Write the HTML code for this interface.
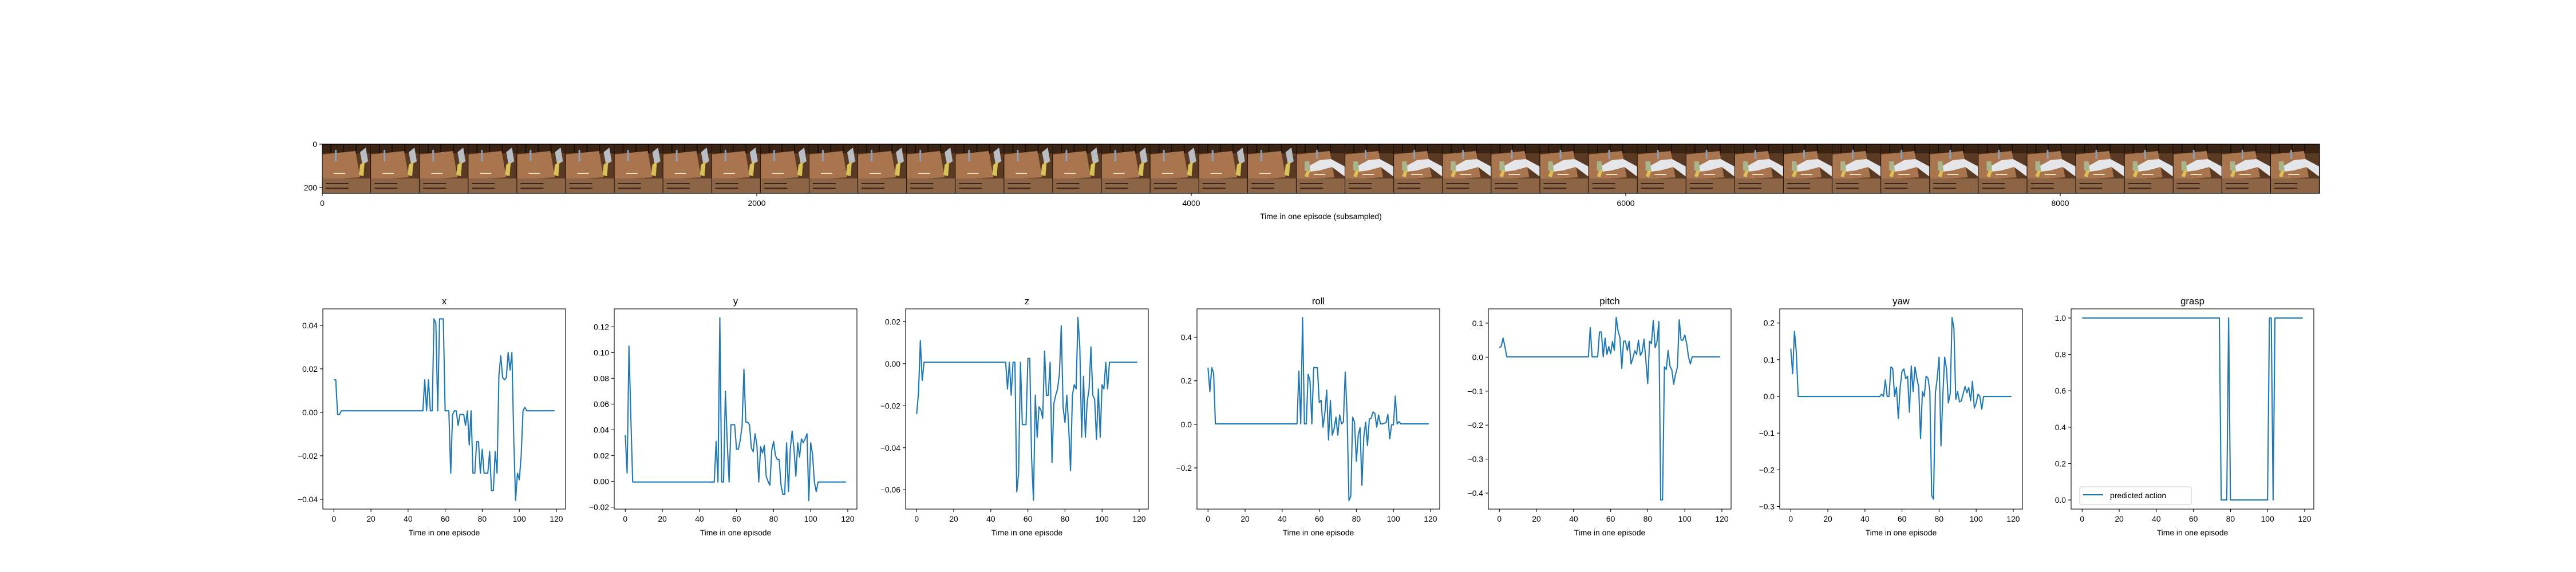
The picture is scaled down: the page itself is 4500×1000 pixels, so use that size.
<!DOCTYPE html>
<html><head><meta charset="utf-8"><style>
html,body{margin:0;padding:0;background:#fff;}
svg{display:block;font-family:"Liberation Sans","DejaVu Sans",sans-serif;}
</style></head><body>
<svg id="fig" width="4500" height="1000" viewBox="0 0 4500 1000" xmlns="http://www.w3.org/2000/svg">
<defs>
<pattern id="frameA" x="563" y="252" width="85.1" height="86" patternUnits="userSpaceOnUse">
<rect width="86" height="86" fill="#5a3a22"/>
<rect x="0" y="0" width="86" height="16" fill="#3b2414"/>
<rect x="14" y="0" width="2" height="16" fill="#1c0f07"/><rect x="36" y="0" width="2" height="16" fill="#1c0f07"/><rect x="58" y="0" width="2" height="16" fill="#1c0f07"/>
<polygon points="0,18 58,12 66,58 0,62" fill="#a9754f"/>
<rect x="0" y="60" width="86" height="26" fill="#8c6446"/>
<rect x="6" y="68" width="40" height="2" fill="#3b2414"/><rect x="6" y="76" width="40" height="2" fill="#3b2414"/>
<rect x="20" y="50" width="20" height="2" fill="#f0dcc0"/>
<rect x="22" y="10" width="3" height="20" fill="#8da0b8"/>
<polygon points="66,14 76,6 80,30 70,36" fill="#b9bdc4"/>
<polygon points="66,36 74,30 72,56 64,54" fill="#d9c15a"/>
<rect x="84" y="0" width="2" height="86" fill="#1c0f07"/>
</pattern>
<pattern id="frameB" x="563" y="252" width="85.1" height="86" patternUnits="userSpaceOnUse">
<rect width="86" height="86" fill="#5a3a22"/>
<rect x="0" y="0" width="86" height="16" fill="#3b2414"/>
<rect x="14" y="0" width="2" height="16" fill="#1c0f07"/><rect x="36" y="0" width="2" height="16" fill="#1c0f07"/><rect x="58" y="0" width="2" height="16" fill="#1c0f07"/>
<polygon points="0,18 58,12 66,58 0,62" fill="#a9754f"/>
<rect x="0" y="60" width="86" height="26" fill="#8c6446"/>
<rect x="6" y="68" width="40" height="2" fill="#3b2414"/><rect x="6" y="76" width="40" height="2" fill="#3b2414"/>
<rect x="30" y="52" width="20" height="2" fill="#f0dcc0"/>
<rect x="34" y="10" width="3" height="16" fill="#8da0b8"/>
<polygon points="22,38 40,28 60,26 86,40 86,58 62,40 40,46 24,48" fill="#e4e6ea"/>
<polygon points="14,30 22,30 24,48 14,46" fill="#aab48a"/>
<polygon points="18,46 24,46 20,58 14,56" fill="#d9c15a"/>
<rect x="84" y="0" width="2" height="86" fill="#1c0f07"/>
</pattern>
</defs>
<g id="stripGroup"></g>
<g id="panels"></g>
</svg>
<script>
const T = [];
for (let i = 0; i < 120; i++) T.push(i);
const xVals = [0.015,0.015,-0.001,-0.001,0.0007,0.0007,0.0007,0.0007,0.0007,0.0007,0.0007,0.0007,0.0007,0.0007,0.0007,0.0007,0.0007,0.0007,0.0007,0.0007,0.0007,0.0007,0.0007,0.0007,0.0007,0.0007,0.0007,0.0007,0.0007,0.0007,0.0007,0.0007,0.0007,0.0007,0.0007,0.0007,0.0007,0.0007,0.0007,0.0007,0.0007,0.0007,0.0007,0.0007,0.0007,0.0007,0.0007,0.0007,0.0007,0.015,0.0007,0.015,0.0007,0.0007,0.043,0.041,0.0007,0.043,0.043,0.043,0.0007,0.0007,0.0007,-0.028,-0.001,0.0007,0.0007,-0.006,-0.001,-0.001,-0.001,-0.006,0.0007,-0.015,0.0007,-0.028,-0.028,-0.0135,-0.0135,-0.028,-0.017,-0.028,-0.028,-0.028,-0.018,-0.036,-0.036,-0.018,-0.028,0.017,0.026,0.016,0.015,0.016,0.0275,0.0195,0.0275,-0.012,-0.0405,-0.028,-0.031,-0.02,0.0007,0.0023,0.0007,0.0007,0.0007,0.0007,0.0007,0.0007,0.0007,0.0007,0.0007,0.0007,0.0007,0.0007,0.0007,0.0007,0.0007,0.0007];
const yVals = [0.036,0.0065,0.105,0.05,-0.0005,-0.0005,-0.0005,-0.0005,-0.0005,-0.0005,-0.0005,-0.0005,-0.0005,-0.0005,-0.0005,-0.0005,-0.0005,-0.0005,-0.0005,-0.0005,-0.0005,-0.0005,-0.0005,-0.0005,-0.0005,-0.0005,-0.0005,-0.0005,-0.0005,-0.0005,-0.0005,-0.0005,-0.0005,-0.0005,-0.0005,-0.0005,-0.0005,-0.0005,-0.0005,-0.0005,-0.0005,-0.0005,-0.0005,-0.0005,-0.0005,-0.0005,-0.0005,-0.0005,-0.0005,0.031,-0.0005,0.127,-0.0005,-0.0005,0.07,0.03,-0.0005,0.044,0.044,0.044,0.025,0.025,0.032,0.043,0.087,0.046,0.046,0.044,0.026,0.023,0.037,0.028,-0.0005,0.027,0.022,0.028,0.004,0.0,-0.003,0.024,0.031,0.02,0.017,0.017,-0.003,-0.01,-0.01,0.03,-0.008,0.025,0.039,0.025,0.004,0.03,0.019,0.033,0.03,0.033,0.037,-0.015,0.03,0.021,-0.0005,-0.008,-0.0005,-0.0005,-0.0005,-0.0005,-0.0005,-0.0005,-0.0005,-0.0005,-0.0005,-0.0005,-0.0005,-0.0005,-0.0005,-0.0005,-0.0005,-0.0005];
const zVals = [-0.024,-0.014,0.011,-0.008,0.0007,0.0007,0.0007,0.0007,0.0007,0.0007,0.0007,0.0007,0.0007,0.0007,0.0007,0.0007,0.0007,0.0007,0.0007,0.0007,0.0007,0.0007,0.0007,0.0007,0.0007,0.0007,0.0007,0.0007,0.0007,0.0007,0.0007,0.0007,0.0007,0.0007,0.0007,0.0007,0.0007,0.0007,0.0007,0.0007,0.0007,0.0007,0.0007,0.0007,0.0007,0.0007,0.0007,0.0007,0.0007,-0.012,0.0007,-0.015,0.0007,0.0007,-0.061,-0.052,0.0007,-0.029,-0.029,-0.029,0.0025,0.0025,-0.045,-0.065,-0.015,-0.035,-0.0205,-0.022,-0.026,0.006,-0.015,-0.015,0.0007,-0.047,-0.019,-0.015,-0.012,-0.005,0.018,-0.021,-0.028,-0.015,-0.03,-0.051,-0.015,-0.01,-0.012,0.022,0.008,-0.035,-0.006,-0.035,-0.018,-0.012,0.008,-0.015,-0.017,-0.036,-0.012,-0.035,-0.01,-0.012,0.0007,-0.012,0.0007,0.0007,0.0007,0.0007,0.0007,0.0007,0.0007,0.0007,0.0007,0.0007,0.0007,0.0007,0.0007,0.0007,0.0007,0.0007];
const rollVals = [0.26,0.15,0.26,0.235,0.002,0.002,0.002,0.002,0.002,0.002,0.002,0.002,0.002,0.002,0.002,0.002,0.002,0.002,0.002,0.002,0.002,0.002,0.002,0.002,0.002,0.002,0.002,0.002,0.002,0.002,0.002,0.002,0.002,0.002,0.002,0.002,0.002,0.002,0.002,0.002,0.002,0.002,0.002,0.002,0.002,0.002,0.002,0.002,0.002,0.245,0.002,0.49,0.002,0.002,0.23,0.2,0.002,0.26,0.26,0.26,0.1,0.11,-0.013,0.05,0.157,-0.072,0.11,-0.05,-0.02,0.033,-0.05,0.043,0.002,0.01,0.24,0.05,-0.35,-0.33,0.033,0.01,-0.17,-0.05,-0.015,-0.28,-0.06,0.01,-0.097,0.025,0.028,0.057,0.05,-0.013,0.043,0.002,0.002,0.005,0.008,0.046,-0.067,-0.002,-0.002,0.13,0.002,0.012,0.002,0.002,0.002,0.002,0.002,0.002,0.002,0.002,0.002,0.002,0.002,0.002,0.002,0.002,0.002,0.002];
const pitchVals = [0.028,0.032,0.056,0.03,0.001,0.001,0.001,0.001,0.001,0.001,0.001,0.001,0.001,0.001,0.001,0.001,0.001,0.001,0.001,0.001,0.001,0.001,0.001,0.001,0.001,0.001,0.001,0.001,0.001,0.001,0.001,0.001,0.001,0.001,0.001,0.001,0.001,0.001,0.001,0.001,0.001,0.001,0.001,0.001,0.001,0.001,0.001,0.001,0.001,0.087,0.001,0.001,0.001,0.001,0.074,0.074,0.001,0.056,0.008,0.031,0.01,0.046,0.02,0.117,0.077,0.058,-0.033,0.047,0.047,0.02,0.047,-0.02,-0.003,0.019,0.008,0.05,0.005,0.015,0.053,-0.01,-0.078,0.047,0.04,0.108,0.028,0.045,0.105,-0.42,-0.42,-0.029,-0.036,0.02,-0.027,-0.037,-0.08,-0.05,-0.03,0.11,0.05,0.05,0.065,0.04,0.001,-0.02,0.001,0.001,0.001,0.001,0.001,0.001,0.001,0.001,0.001,0.001,0.001,0.001,0.001,0.001,0.001,0.001];
const yawVals = [0.13,0.062,0.177,0.12,0.0,0.0,0.0,0.0,0.0,0.0,0.0,0.0,0.0,0.0,0.0,0.0,0.0,0.0,0.0,0.0,0.0,0.0,0.0,0.0,0.0,0.0,0.0,0.0,0.0,0.0,0.0,0.0,0.0,0.0,0.0,0.0,0.0,0.0,0.0,0.0,0.0,0.0,0.0,0.0,0.0,0.0,0.0,0.0,0.0,0.006,0.0,0.045,0.0,0.0,0.08,0.076,0.0,0.025,-0.06,0.025,0.068,0.075,0.048,0.055,-0.043,0.083,0.013,0.08,0.05,0.025,-0.115,0.013,0.0,0.055,0.05,0.015,-0.27,-0.28,0.01,0.05,0.107,-0.135,0.0,0.107,0.075,-0.018,0.008,0.215,0.185,-0.008,0.013,-0.015,-0.012,0.008,0.027,0.01,0.024,-0.012,0.041,-0.032,-0.018,0.006,0.0,-0.035,0.0,0.0,0.0,0.0,0.0,0.0,0.0,0.0,0.0,0.0,0.0,0.0,0.0,0.0,0.0,0.0];
const graspVals = [1,1,1,1,1,1,1,1,1,1,1,1,1,1,1,1,1,1,1,1,1,1,1,1,1,1,1,1,1,1,1,1,1,1,1,1,1,1,1,1,1,1,1,1,1,1,1,1,1,1,1,1,1,1,1,1,1,1,1,1,1,1,1,1,1,1,1,1,1,1,1,1,1,1,1,0,0,0,0,1,0,0,0,0,0,0,0,0,0,0,0,0,0,0,0,0,0,0,0,0,0,1,1,0,1,1,1,1,1,1,1,1,1,1,1,1,1,1,1,1];
const panelTitles = ["x","y","z","roll","pitch","yaw","grasp"];
const yLims = [[-0.0445,0.0476],[-0.0215,0.1339],[-0.0692,0.0261],[-0.389,0.53],[-0.447,0.142],[-0.307,0.2385],[-0.05,1.05]];
const yTickVals = [[-0.04,-0.02,0,0.02,0.04],[-0.02,0,0.02,0.04,0.06,0.08,0.10,0.12],[-0.06,-0.04,-0.02,0,0.02],[-0.2,0,0.2,0.4],[-0.4,-0.3,-0.2,-0.1,0,0.1],[-0.3,-0.2,-0.1,0,0.1,0.2],[0,0.2,0.4,0.6,0.8,1.0]];
const yTickDecimals = [2,2,2,1,1,1,1];
const xTickVals = [0,20,40,60,80,100,120];
const stripTicksX = [0,2000,4000,6000,8000];
const stripTicksY = [0,200];

const NS = "http://www.w3.org/2000/svg";
function mk(tag, attrs, parent){const e=document.createElementNS(NS,tag);for(const k in attrs)e.setAttribute(k,attrs[k]);parent.appendChild(e);return e;}
function fmt(v,d){const s=Math.abs(v).toFixed(d);return (v< -1e-12?"\u2212":"")+s;}

const stripG = document.getElementById("stripGroup");
const SL=563, ST=252, SW=3489, SH=86, SPX=0.3795;
const fA = mk("rect",{x:SL,y:ST,width:85.1*20,height:SH,fill:"url(#frameA)"},stripG);


const fB = mk("rect",{x:SL+85.1*20,y:ST,width:SW-85.1*20,height:SH,fill:"url(#frameB)"},stripG);


const sb = mk("rect",{x:SL,y:ST,width:SW,height:SH,fill:"none",stroke:"#000","stroke-width":1.2},stripG);


stripTicksX.forEach(v=>{
  const x=SL+v*SPX;
  mk("line",{x1:x,y1:ST+SH,x2:x,y2:ST+SH+5,stroke:"#000","stroke-width":1.1},stripG);
  const t=mk("text",{x:x,y:ST+SH+22,"font-size":13.9,"text-anchor":"middle"},stripG);
  t.textContent=String(v);
  
  
});
stripTicksY.forEach(v=>{
  const y=ST+v*SPX;
  mk("line",{x1:SL-5,y1:y,x2:SL,y2:y,stroke:"#000","stroke-width":1.1},stripG);
  const t=mk("text",{x:SL-9,y:y+5,"font-size":13.9,"text-anchor":"end"},stripG);
  t.textContent=String(v);
  
  
});
const sxl=mk("text",{x:SL+SW/2,y:383,"font-size":13.9,"text-anchor":"middle"},stripG);
sxl.textContent="Time in one episode (subsampled)";



const panels=document.getElementById("panels");
const series=[xVals,yVals,zVals,rollVals,pitchVals,yawVals,graspVals];
const AT=540, AH=350, AW=424, X0=-5.95, X1=124.95;
for(let p=0;p<7;p++){
  const L=564+p*509;
  const g=mk("g",{},panels);
  
  
  const y0=yLims[p][0], y1=yLims[p][1];
  const sx=v=>L+(v-X0)/(X1-X0)*AW;
  const sy=v=>AT+AH-(v-y0)/(y1-y0)*AH;
  mk("rect",{x:L,y:AT,width:AW,height:AH,fill:"#fff"},g);
  const d=T.map((t,i)=>(i?"L":"M")+sx(t).toFixed(2)+","+sy(series[p][i]).toFixed(2)).join("");
  const ln=mk("path",{d:d,fill:"none",stroke:"#1f77b4","stroke-width":2.1,"stroke-linejoin":"round","stroke-linecap":"butt"},g);
  
  
  const bd=mk("rect",{x:L,y:AT,width:AW,height:AH,fill:"none",stroke:"#000","stroke-width":1.1},g);
  
  
  xTickVals.forEach(v=>{
    const x=sx(v);
    mk("line",{x1:x,y1:AT+AH,x2:x,y2:AT+AH+5,stroke:"#000","stroke-width":1.1},g);
    const t=mk("text",{x:x,y:AT+AH+22,"font-size":13.9,"text-anchor":"middle"},g);
    t.textContent=String(v);
    
    
  });
  yTickVals[p].forEach(v=>{
    const y=sy(v);
    mk("line",{x1:L-5,y1:y,x2:L,y2:y,stroke:"#000","stroke-width":1.1},g);
    const t=mk("text",{x:L-9,y:y+5,"font-size":13.9,"text-anchor":"end"},g);
    t.textContent=fmt(v,yTickDecimals[p]);
    
    
  });
  const ti=mk("text",{x:L+AW/2,y:532,"font-size":16.7,"text-anchor":"middle"},g);
  ti.textContent=panelTitles[p];
  
  
  const xl=mk("text",{x:L+AW/2,y:936,"font-size":13.9,"text-anchor":"middle"},g);
  xl.textContent="Time in one episode";
  
  
  if(p===6){
    const lg=mk("g",{},g);
    
    
    mk("rect",{x:L+15,y:851,width:195,height:31,rx:3,fill:"#fff","fill-opacity":0.8,stroke:"#ccc","stroke-width":1},lg);
    mk("line",{x1:L+21,y1:865,x2:L+56,y2:865,stroke:"#1f77b4","stroke-width":2.1},lg);
    const lt=mk("text",{x:L+68,y:871,"font-size":13.9},lg);
    lt.textContent="predicted action";
    
    
  }
}
</script>
</body></html>
